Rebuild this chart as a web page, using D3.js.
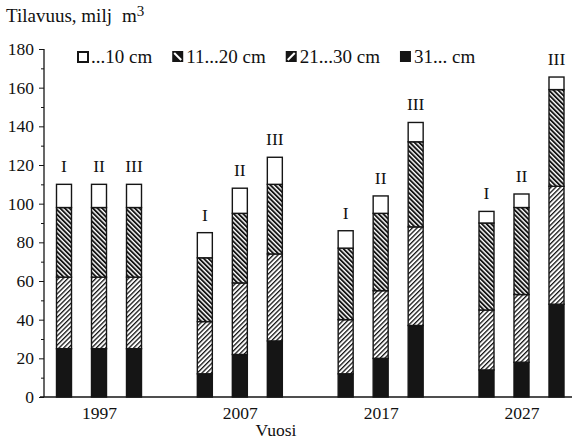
<!DOCTYPE html>
<html>
<head>
<meta charset="utf-8">
<script src="https://cdn.jsdelivr.net/npm/d3@7/dist/d3.min.js"></script>
<style>
  html, body { margin: 0; padding: 0; background: #fff; }
  svg { display: block; }
  text { font-family: "Liberation Serif", "DejaVu Serif", serif; fill: #111; }
</style>
</head>
<body>
<svg id="chart" width="572" height="440"></svg>
<script>
// ---- data ----
const years = ["1997", "2007", "2017", "2027"];
const scenarios = ["I", "II", "III"];
const classes = ["31... cm", "21...30 cm", "11...20 cm", "...10 cm"]; // bottom -> top
const legendOrder = ["...10 cm", "11...20 cm", "21...30 cm", "31... cm"];
// values [year][scenario], milj m3
const v31 = [[25, 25, 25], [12, 22, 29], [12, 20, 37], [14, 18, 48]];
const v21 = [[37, 37, 37], [27, 37, 45], [28, 35, 51], [31, 35, 61]];
const v11 = [[36, 36, 36], [33, 36, 36], [37, 40, 44], [45, 45, 50]];
const v10 = [[12, 12, 12], [13, 13, 14], [9, 9, 10], [6, 7, 6.5]];
const yTicks = [0, 20, 40, 60, 80, 100, 120, 140, 160, 180];
const yMinorTicks = [10, 30, 50, 70, 90, 110, 130, 150, 170];
const yLabel = "Tilavuus, milj";
const yUnit = "m";
const xLabel = "Vuosi";

// ---- build table ----
const rows = [];
years.forEach((yr, i) => {
  scenarios.forEach((sc, j) => {
    rows.push({ year: yr, sc: sc,
      "31... cm": v31[i][j], "21...30 cm": v21[i][j],
      "11...20 cm": v11[i][j], "...10 cm": v10[i][j] });
  });
});
const stacked = d3.stack().keys(classes)(rows);

const svg = d3.select("#chart");
const ink = "#151515";

// patterns
const defs = svg.append("defs");
function hatch(id, angle, period, dark) {
  const p = defs.append("pattern").attr("id", id)
    .attr("patternUnits", "userSpaceOnUse")
    .attr("width", period).attr("height", period)
    .attr("patternTransform", `rotate(${angle})`);
  p.append("rect").attr("width", period).attr("height", period).attr("fill", "#fff");
  p.append("rect").attr("width", dark).attr("height", period).attr("fill", ink);
}
hatch("h11", -45, 3.3, 1.9);
hatch("h21", 45, 3.3, 1.3);

const fills = {
  "...10 cm": "#fff",
  "11...20 cm": "url(#h11)",
  "21...30 cm": "url(#h21)",
  "31... cm": ink
};

// scales
const y = d3.scaleLinear().domain([0, 180]).range([397, 49]);
const xg = d3.scalePoint().domain(years).range([99, 521.5]);
const xs = d3.scalePoint().domain(scenarios).range([-35, 35]);
const barW = 15;
const bx = d => xg(d.data.year) + xs(d.data.sc) - barW / 2;

// y axis
const yAxis = d3.axisLeft(y).tickValues(yTicks).tickSize(5).tickPadding(5).tickFormat(d3.format("d"));
const gy = svg.append("g").attr("transform", "translate(44,0)").call(yAxis);
gy.attr("font-family", null);
gy.select(".domain").attr("stroke", ink).attr("stroke-width", 1.3).attr("d", `M0,${y(180)}V${y(0)}`);
gy.selectAll(".tick line").attr("stroke", ink).attr("stroke-width", 1);
gy.selectAll(".tick text").attr("font-size", 17.5).attr("fill", "#111");
const gyMinor = svg.append("g").attr("transform", "translate(44,0)")
  .call(d3.axisLeft(y).tickValues(yMinorTicks).tickSize(3).tickFormat(""));
gyMinor.select(".domain").remove();
gyMinor.selectAll(".tick line").attr("stroke", ink).attr("stroke-width", 1);

// x axis
const xAxis = d3.axisBottom(xg).tickSize(0).tickPadding(10);
const gx = svg.append("g").attr("transform", `translate(0,${y(0)})`).call(xAxis);
gx.attr("font-family", null);
gx.select(".domain").attr("stroke", ink).attr("stroke-width", 1.3).attr("d", "M40,0H572");
gx.selectAll(".tick text").attr("font-size", 17.5).attr("fill", "#111");

// bars
stacked.forEach(layer => {
  svg.append("g").selectAll("rect").data(layer).join("rect")
    .attr("x", bx)
    .attr("y", d => y(d[1]))
    .attr("width", barW)
    .attr("height", d => y(d[0]) - y(d[1]))
    .attr("fill", fills[layer.key])
    .attr("stroke", ink)
    .attr("stroke-width", 1.4);
});

// scenario labels above bars
const topLayer = stacked[stacked.length - 1];
svg.append("g").selectAll("text").data(topLayer).join("text")
  .attr("x", d => xg(d.data.year) + xs(d.data.sc))
  .attr("y", d => y(d[1]) - 12)
  .attr("text-anchor", "middle")
  .attr("font-size", 17.5)
  .text(d => d.data.sc);

// axis titles
const t = svg.append("text").attr("x", 6).attr("y", 22).attr("font-size", 19).text(yLabel);
t.append("tspan").attr("dx", 10).text(yUnit);
t.append("tspan").attr("dy", -6).attr("font-size", 15).text("3");
svg.append("text").attr("x", 276).attr("y", 436).attr("text-anchor", "middle").attr("font-size", 17.5).text(xLabel);

// legend
const lg = svg.append("g");
let lx = 77;
const ly = 57;
legendOrder.forEach(k => {
  const g = lg.append("g");
  if (k === "...10 cm") {
    g.append("rect").attr("x", lx + 1).attr("y", ly - 5).attr("width", 10).attr("height", 10)
      .attr("fill", "#fff").attr("stroke", ink).attr("stroke-width", 2);
  } else {
    g.append("rect").attr("x", lx).attr("y", ly - 6).attr("width", 11).attr("height", 11).attr("fill", ink);
    if (k === "11...20 cm") {
      g.append("line").attr("x1", lx + 2).attr("y1", ly - 4).attr("x2", lx + 9).attr("y2", ly + 3)
        .attr("stroke", "#fff").attr("stroke-width", 2);
    } else if (k === "21...30 cm") {
      g.append("line").attr("x1", lx + 2).attr("y1", ly + 3).attr("x2", lx + 9).attr("y2", ly - 4)
        .attr("stroke", "#fff").attr("stroke-width", 2);
    }
  }
  const tx = g.append("text").attr("x", lx + 14).attr("y", ly + 6).attr("font-size", 19).text(k);
  lx += 14 + tx.node().getComputedTextLength() + 20;
});
</script>
</body>
</html>
